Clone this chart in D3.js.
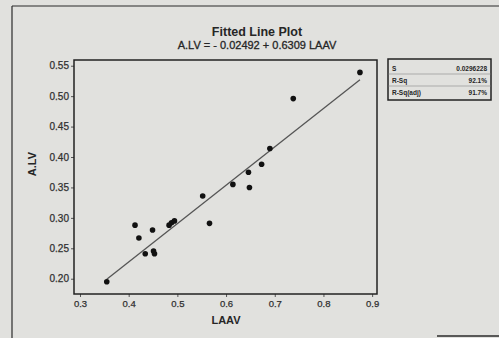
<!DOCTYPE html>
<html><head><meta charset="utf-8">
<script src="https://cdn.jsdelivr.net/npm/d3@7"></script>
<style>body{margin:0;background:#e1e1de;}svg{display:block;}</style>
</head><body>
<svg id="c" width="499" height="338"></svg>
<script>
const laav = [0.355,0.413,0.421,0.434,0.449,0.451,0.453,0.483,0.488,0.494,0.552,0.566,0.614,0.646,0.648,0.673,0.690,0.738,0.875];
const alv  = [0.195,0.288,0.267,0.241,0.280,0.2455,0.241,0.288,0.292,0.295,0.336,0.291,0.355,0.375,0.350,0.388,0.414,0.496,0.539];
const xTicks = [0.3,0.4,0.5,0.6,0.7,0.8,0.9];
const yTicks = [0.20,0.25,0.30,0.35,0.40,0.45,0.50,0.55];
const intercept = -0.02492, slope = 0.6309;
const statLabels = ["S","R-Sq","R-Sq(adj)"];
const statValues = ["0.0296228","92.1%","91.7%"];
const title = "Fitted Line Plot";
const subtitle = "A.LV =  - 0.02492 + 0.6309 LAAV";

const svg = d3.select("#c");
const L=74, R=377, T=60, B=294;
const x = d3.scaleLinear().domain([0.2877,0.910]).range([L,R]);
const y = d3.scaleLinear().domain([0.1749,0.5594]).range([B,T]);
const font = "'Liberation Sans', Arial, sans-serif";
const ink = "#262626";

svg.append("rect").attr("width",499).attr("height",338).attr("fill","#e1e1de");
// outer frame
svg.append("line").attr("x1",12).attr("x2",12).attr("y1",6).attr("y2",338).attr("stroke","#2a2a2a").attr("stroke-width",1.2);
svg.append("line").attr("x1",12).attr("x2",499).attr("y1",6).attr("y2",6).attr("stroke","#2a2a2a").attr("stroke-width",1.2);
svg.append("line").attr("x1",437).attr("x2",499).attr("y1",336).attr("y2",336).attr("stroke","#2a2a2a").attr("stroke-width",1.5);

svg.append("text").attr("x",257).attr("y",36).attr("text-anchor","middle").attr("font-family",font)
  .attr("font-weight","bold").attr("font-size",12.5).attr("fill",ink).text(title);
svg.append("text").attr("x",257).attr("y",49).attr("text-anchor","middle").attr("font-family",font)
  .attr("font-size",11).attr("fill",ink).attr("stroke",ink).attr("stroke-width",0.3).text(subtitle);

// axes
const xa = svg.append("g").attr("transform",`translate(0,${B})`)
  .call(d3.axisBottom(x).tickValues(xTicks).tickFormat(d3.format(".1f")).tickSize(3).tickPadding(3));
const ya = svg.append("g").attr("transform",`translate(${L},0)`)
  .call(d3.axisLeft(y).tickValues(yTicks).tickFormat(d3.format(".2f")).tickSize(3).tickPadding(2));
[xa,ya].forEach(g=>{
  g.select(".domain").remove();
  g.selectAll("line").attr("stroke","#555");
  g.selectAll("text").attr("font-family",font).attr("fill","#303030").attr("stroke","#303030").attr("stroke-width",0.25);
});
xa.selectAll("text").attr("font-size",9.5);
ya.selectAll("text").attr("font-size",10);

svg.append("rect").attr("x",L).attr("y",T).attr("width",R-L).attr("height",B-T)
  .attr("fill","none").attr("stroke","#222").attr("stroke-width",1.5);

svg.append("text").attr("x",226).attr("y",324).attr("text-anchor","middle").attr("font-family",font)
  .attr("font-weight","bold").attr("font-size",11).attr("fill",ink).text("LAAV");
svg.append("text").attr("transform","translate(36,164) rotate(-90)").attr("text-anchor","middle")
  .attr("font-family",font).attr("font-weight","bold").attr("font-size",11).attr("fill",ink).text("A.LV");

// fitted line
const xmin = d3.min(laav), xmax = d3.max(laav);
svg.append("line").attr("x1",x(xmin)).attr("y1",y(intercept+slope*xmin))
  .attr("x2",x(xmax)).attr("y2",y(intercept+slope*xmax)).attr("stroke","#555").attr("stroke-width",1.3);

svg.append("g").selectAll("circle").data(laav).join("circle")
  .attr("cx",d=>x(d)).attr("cy",(d,i)=>y(alv[i])).attr("r",2.8).attr("fill","#111");

// stats box
const bx=388, by=59, bw=103, bh=41;
svg.append("rect").attr("x",bx).attr("y",by).attr("width",bw).attr("height",bh)
  .attr("fill","none").attr("stroke","#222").attr("stroke-width",1.5);
statLabels.forEach((s,i)=>{
  const yy = by+12+i*12;
  svg.append("text").attr("x",bx+4).attr("y",yy).attr("font-family",font).attr("font-size",6.5)
    .attr("font-weight","bold").attr("fill",ink).text(s);
  svg.append("text").attr("x",bx+bw-4).attr("y",yy).attr("text-anchor","end").attr("font-family",font)
    .attr("font-size",6.5).attr("font-weight","bold").attr("fill",ink).text(statValues[i]);
  if(i>0) svg.append("line").attr("x1",bx).attr("x2",bx+bw).attr("y1",yy-9).attr("y2",yy-9).attr("stroke","#777").attr("stroke-width",0.5);
});
</script>
</body></html>
